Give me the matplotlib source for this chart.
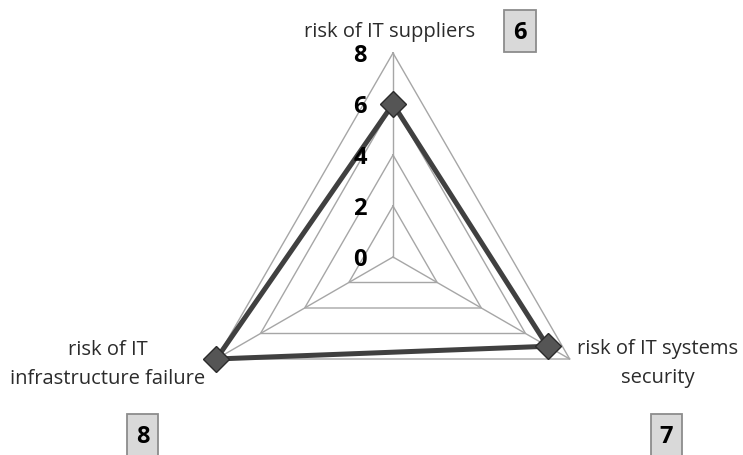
import numpy as np
import matplotlib
matplotlib.use("Agg")
import matplotlib.pyplot as plt
from matplotlib.patches import Rectangle

categories = ["risk of IT suppliers", "risk of IT systems\nsecurity", "risk of IT\ninfrastructure failure"]
values = [6, 7, 8]
ring_values = [2, 4, 6, 8]
tick_labels = ["0", "2", "4", "6", "8"]
tick_positions = [0, 2, 4, 6, 8]

W, H = 743, 455
plt.rcParams['font.family'] = ['Open Sans', 'DejaVu Sans']
fig = plt.figure(figsize=(W / 100, H / 100), dpi=100)

cx, cy, R = 393, 257, 204
ax = fig.add_axes([(cx - R) / W, (H - cy - R) / H, 2 * R / W, 2 * R / H], projection='polar')
ax.set_theta_offset(np.pi / 2)
ax.set_theta_direction(-1)
ax.set_ylim(0, 8)
ax.grid(False)
ax.spines['polar'].set_visible(False)
ax.set_xticks([])
ax.set_yticks([])
ax.patch.set_visible(False)

n = len(categories)
theta = np.arange(n) * 2 * np.pi / n
theta_closed = np.append(theta, theta[0])

grid_color = '#a6a6a6'
for rv in ring_values:
    ax.plot(theta_closed, [rv] * (n + 1), color=grid_color, lw=1.0, zorder=1, clip_on=False)
for t in theta:
    ax.plot([t, t], [0, max(ring_values)], color=grid_color, lw=1.0, zorder=1, clip_on=False)

vals_closed = values + [values[0]]
ax.plot(theta_closed, vals_closed, color='#404040', lw=3.6, zorder=3,
        solid_joinstyle='miter', clip_on=False)
ax.plot(theta, values, linestyle='none', marker='D', markersize=13,
        markerfacecolor='#555555', markeredgecolor='#2b2b2b', markeredgewidth=1.0,
        zorder=4, clip_on=False)

for tp, tl in zip(tick_positions, tick_labels):
    ax.annotate(tl, xy=(0, tp), xytext=(-33, -3), textcoords='offset pixels',
                ha='center', va='center', fontsize=17, fontweight='bold', color='black')

def fx(x):
    return x / W

def fy(y):
    return 1 - y / H

# (center x, baseline y of first line) in pixels
label_pos = [(390, 37), (658, 354), (108, 355)]
line_gap = 29
for lab, (x, y) in zip(categories, label_pos):
    for i, line in enumerate(lab.split("\n")):
        fig.text(fx(x), fy(y + i * line_gap), line, ha='center', va='baseline',
                 fontsize=14.5, color='#2b2b2b')

# (left, top, width, height) of the value boxes in pixels
box_geom = [(503.5, 10, 32, 42), (651, 414, 31, 42), (127.5, 414, 30, 42)]
for v, (x, y, w, h) in zip(values, box_geom):
    fig.add_artist(Rectangle((fx(x), fy(y + h)), w / W, h / H, transform=fig.transFigure,
                             facecolor='#d9d9d9', edgecolor='#8c8c8c', linewidth=1.3))
    fig.text(fx(x + w / 2), fy(y + 23), str(v), ha='center', va='center', fontsize=17,
             fontweight='bold', color='black')

fig.savefig('out.png', dpi=100)
